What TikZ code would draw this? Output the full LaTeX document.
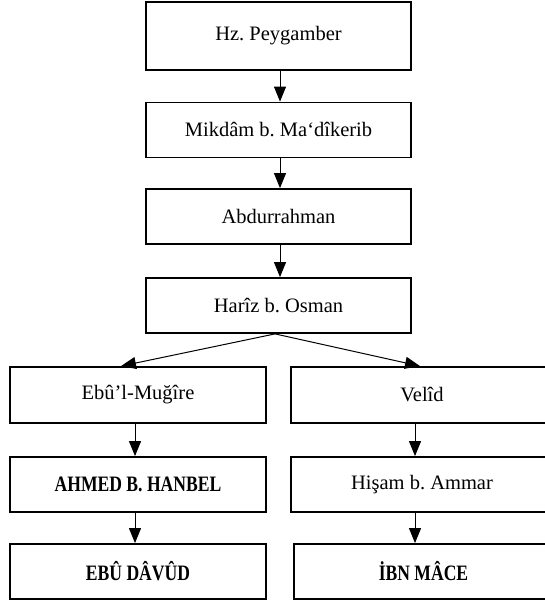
\documentclass[tikz,border=0pt]{standalone}
\usepackage{fontspec}
\setmainfont{Liberation Serif}
\newfontface\imamfont[FakeStretch=0.8]{Liberation Serif Bold}
\usetikzlibrary{arrows.meta}
\begin{document}
\begin{tikzpicture}[x=1pt, y=-1pt,
  kutu/.style={draw, line width=1.8pt, inner sep=0pt, minimum height=55pt,
    font=\fontsize{20.5}{24}\selectfont\frenchspacing},
  imam/.style={kutu, font=\imamfont\fontsize{22}{26}\selectfont\frenchspacing},
  ok/.style={line width=1pt, -{Triangle[width=12pt,length=15pt]}}]
\useasboundingbox (0,0) rectangle (545,604);
\clip (0,0) rectangle (545,604);
% zincirin ortak kolu
\node[kutu, minimum width=265pt, minimum height=68pt] (peygamber) at (278.5,36) {Hz. Peygamber};
\node[kutu, minimum width=265pt] (mikdam) at (278.5,130) {Mikdâm b. Ma‘dîkerib};
\node[kutu, minimum width=265pt] (abdurrahman) at (278.5,216.5) {Abdurrahman};
\node[kutu, minimum width=265pt] (hariz) at (278.5,305.5) {Harîz b. Osman};
\draw[ok] ([xshift=1.5pt]peygamber.south) -- ([xshift=1.5pt]mikdam.north);
\draw[ok] ([xshift=1.5pt]mikdam.south) -- ([xshift=1.5pt]abdurrahman.north);
\draw[ok] ([xshift=1.5pt]abdurrahman.south) -- ([xshift=1.5pt]hariz.north);
% sol kol
\node[kutu, minimum width=256pt, minimum height=56pt] (mugire) at (138,395) {Ebû’l-Muğîre};
\node[imam, minimum width=256pt] (hanbel) at (138,484.5) {AHMED B. HANBEL};
\node[imam, minimum width=256pt] (davud) at (138,571.5) {EBÛ DÂVÛD};
\draw[ok] ([xshift=-3pt]mugire.south) -- ([xshift=-3pt]mugire.south |- hanbel.north);
\draw[ok] ([xshift=-3pt]hanbel.south) -- ([xshift=-3pt]hanbel.south |- davud.north);
% sag kol
\node[kutu, minimum width=262pt, minimum height=56pt] (velid) at (422,395) {Velîd};
\node[kutu, minimum width=262pt] (hisam) at (422,484.5) {Hişam b. Ammar};
\node[imam, minimum width=259pt] (mace) at (423.5,571.5) {İBN MÂCE};
\draw[ok] ([xshift=-7pt]velid.south) -- ([xshift=-7pt]velid.south |- hisam.north);
\draw[ok] ([xshift=-7pt]hisam.south) -- ([xshift=-7pt]hisam.south |- mace.north);
% ayrilma
\draw[ok] ([xshift=-3.5pt]hariz.south) -- ([xshift=-17pt]mugire.north);
\draw[ok] ([xshift=-3.5pt]hariz.south) -- ([xshift=-2pt]velid.north);
\end{tikzpicture}
\end{document}
